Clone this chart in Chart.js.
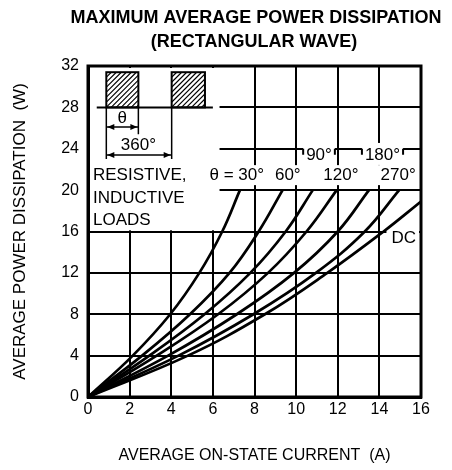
<!DOCTYPE html>
<html lang="en">
<head>
<meta charset="UTF-8" />
<title>Maximum Average Power Dissipation</title>
<script src="https://cdn.jsdelivr.net/npm/chart.js"></script>
<style>
  html, body { margin: 0; padding: 0; background: #fff; }
  #wrap { width: 452px; height: 470px; }
</style>
</head>
<body>
<div id="wrap"><canvas id="powerChart" width="452" height="470"></canvas></div>
<script>
const powerLevels = [0, 4, 8, 12, 16, 20];
// average on-state current (A) for each conduction angle
const current30  = [0, 2.15, 3.95, 5.35, 6.45, 7.3];
const current60  = [0, 2.6, 4.9, 6.8, 8.2, 9.35];
const current90  = [0, 2.95, 5.6, 7.8, 9.5, 10.8];
const current120 = [0, 3.3, 6.25, 8.65, 10.5, 11.95];
const current180 = [0, 3.85, 7.15, 9.9, 12.0, 13.5];
const current270 = [0, 4.35, 7.95, 10.95, 13.3, 14.95];
// DC runs off the right edge before reaching 20 W
const currentDC  = [0, 4.8, 8.5, 11.5, 14.2, 16];
const powerDC    = [0, 4, 8, 12, 16, 18.9];

const angleLabels = ['θ = 30°', '60°', '90°', '120°', '180°', '270°', 'DC'];
const xTicks = [0, 2, 4, 6, 8, 10, 12, 14, 16];
const yTicks = [0, 4, 8, 12, 16, 20, 24, 28, 32];

const FONT = "'Liberation Sans', Arial, Helvetica, sans-serif";

function toPoints(xs, ys) {
  return xs.map((x, i) => ({ x: x, y: ys[i] }));
}

const curves = [
  toPoints(current30, powerLevels),
  toPoints(current60, powerLevels),
  toPoints(current90, powerLevels),
  toPoints(current120, powerLevels),
  toPoints(current180, powerLevels),
  toPoints(current270, powerLevels),
  toPoints(currentDC, powerDC)
];

// where each angle label sits, in axis units
const labelSpots = [
  [7.15, 21.45], [9.6, 21.45], [11.1, 23.4], [12.15, 21.45],
  [14.15, 23.4], [14.9, 21.45], [15.17, 15.36]
];

function arrowHead(ctx, x, y, dir) {
  ctx.beginPath();
  ctx.moveTo(x, y);
  ctx.lineTo(x - dir * 7, y - 3);
  ctx.lineTo(x - dir * 7, y + 3);
  ctx.closePath();
  ctx.fill();
}

function hatchBox(ctx, x0, y0, x1, y1) {
  const w = x1 - x0, h = y1 - y0;
  ctx.save();
  ctx.beginPath();
  ctx.rect(x0, y0, w, h);
  ctx.clip();
  ctx.lineWidth = 1.2;
  ctx.beginPath();
  for (let k = -h; k < w + h; k += 5) {
    ctx.moveTo(x0 + k, y1);
    ctx.lineTo(x0 + k + h, y0);
  }
  ctx.stroke();
  ctx.restore();
  ctx.lineWidth = 2;
  ctx.strokeRect(x0, y0, w, h);
}

const decor = {
  id: 'decor',
  beforeDatasetsDraw(chart) {
    const { ctx, chartArea: a, scales: { x, y } } = chart;
    ctx.save();
    ctx.fillStyle = '#fff';
    // blank box for the waveform sketch and load text
    ctx.fillRect(a.left + 2, a.top + 2, x.getPixelForValue(6.32) - a.left - 2, y.getPixelForValue(16) - 1.2 - a.top - 2);
    // gaps in the grid behind the angle labels
    ctx.font = '17px ' + FONT;
    angleLabels.forEach((t, i) => {
      const px = x.getPixelForValue(labelSpots[i][0]);
      const py = y.getPixelForValue(labelSpots[i][1]);
      const w = ctx.measureText(t).width + 6;
      if (i === 2 || i === 4) {
        ctx.fillRect(px - w / 2, py - 12, w, 22);
      } else if (i === 6) {
        ctx.fillRect(px - w / 2 - 2, py - 8, w + 2, 18);
      } else {
        ctx.fillRect(px - w / 2, py - 10, w, 20);
      }
    });
    ctx.restore();
  },
  afterDatasetsDraw(chart) {
    const { ctx, chartArea: a, scales: { x, y } } = chart;
    ctx.save();
    ctx.strokeStyle = '#000';
    ctx.fillStyle = '#000';

    // little bracket ticks beside 90° and 180°
    ctx.font = '17px ' + FONT;
    ctx.lineWidth = 2;
    [2, 4].forEach(i => {
      const px = x.getPixelForValue(labelSpots[i][0]);
      const y24 = y.getPixelForValue(24);
      const w = ctx.measureText(angleLabels[i]).width + 6;
      ctx.beginPath();
      ctx.moveTo(px - w / 2, y24); ctx.lineTo(px - w / 2, y24 + 6);
      ctx.moveTo(px + w / 2, y24); ctx.lineTo(px + w / 2, y24 + 6);
      ctx.stroke();
    });

    // frame
    ctx.lineWidth = 3;
    ctx.strokeRect(a.left, a.top, a.right - a.left, a.bottom - a.top);

    // labels
    ctx.textAlign = 'center';
    ctx.textBaseline = 'middle';
    angleLabels.forEach((t, i) => {
      ctx.fillText(t, x.getPixelForValue(labelSpots[i][0]), y.getPixelForValue(labelSpots[i][1]));
    });
    ctx.textAlign = 'left';
    ctx.fillText('RESISTIVE,', x.getPixelForValue(0.24), y.getPixelForValue(21.45));
    ctx.fillText('INDUCTIVE', x.getPixelForValue(0.24), y.getPixelForValue(19.25));
    ctx.fillText('LOADS', x.getPixelForValue(0.24), y.getPixelForValue(17.1));

    // rectangular wave sketch
    const base = y.getPixelForValue(28);
    const top = y.getPixelForValue(31.4);
    const p1a = x.getPixelForValue(0.88), p1b = x.getPixelForValue(2.42);
    const p2a = x.getPixelForValue(4.02), p2b = x.getPixelForValue(5.62);
    hatchBox(ctx, p1a, top, p1b, base);
    hatchBox(ctx, p2a, top, p2b, base);
    ctx.lineWidth = 2;
    ctx.beginPath();
    ctx.moveTo(x.getPixelForValue(0.42), base);
    ctx.lineTo(x.getPixelForValue(6.0), base);
    ctx.stroke();

    // dimension lines
    const thY = y.getPixelForValue(26.1);
    const fullY = y.getPixelForValue(23.4);
    ctx.lineWidth = 1.5;
    ctx.beginPath();
    ctx.moveTo(p1a, base); ctx.lineTo(p1a, y.getPixelForValue(23.0));
    ctx.moveTo(p1b, base); ctx.lineTo(p1b, y.getPixelForValue(25.4));
    ctx.moveTo(p2a, base); ctx.lineTo(p2a, y.getPixelForValue(23.0));
    ctx.moveTo(p1a, thY); ctx.lineTo(p1b, thY);
    ctx.moveTo(p1a, fullY); ctx.lineTo(p2a, fullY);
    ctx.stroke();
    arrowHead(ctx, p1a + 1, thY, -1);
    arrowHead(ctx, p1b - 1, thY, 1);
    arrowHead(ctx, p1a + 1, fullY, -1);
    arrowHead(ctx, p2a - 1, fullY, 1);

    ctx.textAlign = 'center';
    ctx.fillText('θ', (p1a + p1b) / 2, y.getPixelForValue(26.95));
    ctx.fillText('360°', x.getPixelForValue(2.42), y.getPixelForValue(24.35));

    // heading
    ctx.font = 'bold 18px ' + FONT;
    ctx.fillText('MAXIMUM AVERAGE POWER DISSIPATION', 256, 18);
    ctx.fillText('(RECTANGULAR WAVE)', 254, 42);
    ctx.restore();
  }
};

new Chart(document.getElementById('powerChart'), {
  type: 'line',
  data: {
    datasets: curves.map((pts, i) => ({
      label: angleLabels[i],
      data: pts,
      borderColor: '#000',
      borderWidth: 2.7,
      pointRadius: 0,
      fill: false,
      tension: 0.4
    }))
  },
  options: {
    responsive: false,
    animation: false,
    layout: { padding: { top: 66, right: 31, bottom: 0, left: 0 } },
    plugins: { legend: { display: false }, tooltip: { enabled: false }, title: { display: false } },
    scales: {
      x: {
        type: 'linear', min: 0, max: 16,
        afterBuildTicks: s => { s.ticks = xTicks.map(v => ({ value: v })); },
        afterFit: s => { s.height = 73; },
        grid: { color: '#000', lineWidth: 2, drawTicks: false },
        border: { color: '#000', width: 3 },
        ticks: { color: '#000', padding: 3, maxRotation: 0, font: { family: FONT, size: 16 } },
        title: {
          display: true, text: 'AVERAGE ON-STATE CURRENT  (A)', color: '#000',
          font: { family: FONT, size: 16 }, padding: { top: 0, bottom: 5 }
        }
      },
      y: {
        type: 'linear', min: 0, max: 32,
        afterBuildTicks: s => { s.ticks = yTicks.map(v => ({ value: v })); },
        afterFit: s => { s.width = 88; },
        grid: { color: '#000', lineWidth: 2, drawTicks: false },
        border: { color: '#000', width: 3 },
        ticks: { color: '#000', padding: 9, font: { family: FONT, size: 16 } },
        title: {
          display: true, text: 'AVERAGE POWER DISSIPATION  (W)', color: '#000',
          font: { family: FONT, size: 17 }, padding: { top: 10, bottom: 0 }
        }
      }
    }
  },
  plugins: [decor]
});
</script>
</body>
</html>
